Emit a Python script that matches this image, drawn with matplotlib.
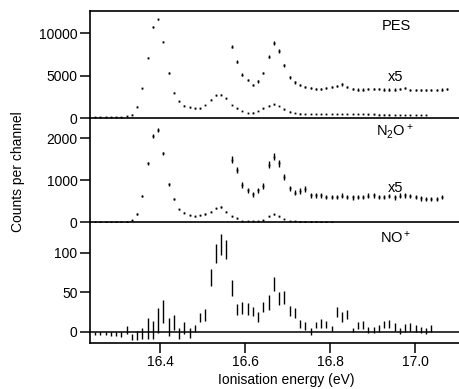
import matplotlib
matplotlib.use("Agg")
import matplotlib.pyplot as plt
import numpy as np

plt.rcParams['font.family'] = ['Liberation Sans', 'DejaVu Sans']
plt.rcParams['mathtext.fontset'] = 'custom'
plt.rcParams['mathtext.rm'] = 'Liberation Sans'
plt.rcParams['mathtext.it'] = 'Liberation Sans'
plt.rcParams['mathtext.default'] = 'regular'

# canales de energia (eV)
e0 = 16.247
paso = 0.01237

# PES
pes = [120, 120, 130, 130, 140, 160, 250, 400, 1350, 3500, 7100, 10700, 11600,
       9000, 5300, 3000, 1950, 1470, 1270, 1150, 1150, 1550, 2150, 2650, 2740,
       2340, 1550, 1150, 830, 560, 640, 830, 1150, 1470, 1630, 1430, 1030, 750,
       560, 520, 500, 480, 470, 470, 460, 460, 450, 460, 470, 460, 450, 440, 430,
       420, 410, 400, 400, 390, 380, 380, 370, 360, 350, 350]
pes_x5 = [8400, 6600, 5100, 4500, 3900, 4300, 5300, 7200, 8800, 7900, 6200, 4800,
          4200, 3850, 3650, 3550, 3400, 3400, 3550, 3650, 3750, 3950, 3650, 3400,
          3350, 3350, 3400, 3400, 3400, 3350, 3350, 3350, 3400, 3550, 3250, 3250,
          3250, 3250, 3250, 3250, 3350, 3400]

# N2O+
n2o = [0, 0, 0, 0, 5, 5, 10, 40, 190, 620, 1400, 2050, 2190, 1635, 900, 540, 300,
       220, 165, 140, 165, 190, 245, 325, 357, 245, 140, 87, 30, 20, 20, 25, 40,
       140, 180, 140, 70, 30, 15, 10, 10, 10, 10, 5, 5, 5]
n2o_x5 = [1490, 1240, 880, 760, 660, 760, 860, 1370, 1555, 1400, 1080, 800, 700,
          740, 785, 640, 640, 640, 600, 600, 600, 625, 600, 590, 600, 600, 625,
          640, 600, 600, 620, 590, 625, 640, 620, 600, 565, 550, 550, 550, 595]
inicio_x5 = 26

# NO+
no = [-2.5, -1.9, -1.9, -3, -3, -3.6, 2.5, -6.3, -5, -2.1, 4.6, 2.5, 14.6, 26,
      6.3, 12, -2, 4.6, -1.3, 4.6, 18, 21.5, 69, 99, 110.6, 104.6, 56, 28, 30,
      29, 26, 19.4, 32, 37.5, 61, 42, 43.5, 27, 24, 10, 7.6, 0.4, 8.9, 11, 9.3,
      3.8, 25.7, 19, 22, 2.5, 8.4, 8.9, 2.5, 2.5, 4.2, 9.3, 10, 5.9, 1.3, 5,
      6.3, 4.2, 2.5, 0.8, 4.6]
no_err = [2, 2, 2, 2.5, 2.5, 3.4, 4.6, 4.2, 5.7, 6.8, 13.5, 11.4, 16, 15, 11,
          9.5, 6.8, 7.4, 6, 4.2, 5.7, 7.4, 10.3, 12, 13, 12, 10, 6.8, 7.6, 7.4,
          6, 6.3, 6.3, 9.5, 9, 8, 8.4, 6.3, 6, 5.3, 4.9, 4.2, 4.2, 5.5, 4.6, 3.2,
          6.3, 6.8, 5.7, 2, 4.6, 5, 4.2, 4.2, 4.6, 4.6, 5.3, 5.3, 4.2, 4.6, 4.9,
          4.6, 4.2, 3.8, 4.2]


def energias(n, desde=0):
    return e0 + paso * (desde + np.arange(n))


W, H = 459, 389
fig = plt.figure(figsize=(W / 100, H / 100), dpi=100)


def caja(y_top, y_bot):
    return [90 / W, 1 - y_bot / H, 1 - 90 / W, (y_bot - y_top) / H]


ax1 = fig.add_axes(caja(11, 118))
ax2 = fig.add_axes(caja(118, 222))
ax3 = fig.add_axes(caja(222, 343))

kw = dict(fmt='none', ecolor='black', elinewidth=1.0, capsize=0)


def puntos(ax, x, y, err):
    # barra de error + punto pequeño para que se vean los valores chicos
    ax.errorbar(x, y, yerr=err, **kw)
    ax.plot(x, y, ls='none', marker='s', ms=1.3, mfc='black', mec='none')


# panel PES
y = np.array(pes, float)
puntos(ax1, energias(len(y)), y, np.sqrt(y))
y5 = np.array(pes_x5, float)
puntos(ax1, energias(len(y5), inicio_x5), y5, np.sqrt(5 * y5))
ax1.set_ylim(0, 12600)
ax1.set_yticks([0, 5000, 10000])

# panel N2O+
y = np.array(n2o, float)
puntos(ax2, energias(len(y)), y, np.sqrt(y))
y5 = np.array(n2o_x5, float)
puntos(ax2, energias(len(y5), inicio_x5), y5, np.sqrt(5 * y5))
ax2.set_ylim(0, 2480)
ax2.set_yticks([0, 1000, 2000])

# panel NO+
ax3.errorbar(energias(len(no)), no, yerr=no_err, **kw)
ax3.axhline(0, color='black', lw=1.1)
ax3.set_ylim(-14, 139)
ax3.set_yticks([0, 50, 100])
ax3.set_xticks([16.4, 16.6, 16.8, 17.0])
ax3.set_xticklabels(['16.4', '16.6', '16.8', '17.0'])

for ax in (ax1, ax2, ax3):
    ax.set_xlim(16.235, 17.1035)
    ax.spines['right'].set_visible(False)
    for s in ax.spines.values():
        s.set_linewidth(1.2)
    ax.tick_params(axis='y', direction='out', length=7, width=1.1,
                   labelsize=10, pad=2)
    ax.patch.set_alpha(0)
ax2.spines['top'].set_visible(False)
ax3.spines['top'].set_visible(False)
for ax in (ax1, ax2):
    ax.tick_params(axis='x', bottom=False, labelbottom=False)
ax3.tick_params(axis='x', direction='out', length=7, width=1.1,
                labelsize=10, pad=2)


# textos
def texto(x, y, s, **k):
    fig.text(x / W, 1 - y / H, s, fontsize=10.5, va='center', ha='left', **k)


texto(382, 26, 'PES')
texto(388, 77, 'x5')
texto(376, 132, r'N$_2$O$^+$')
texto(388, 188, 'x5')
texto(380, 238, r'NO$^+$')

fig.text(18 / W, 1 - 172 / H, 'Counts per channel', rotation=90,
         fontsize=10, va='center', ha='center')
fig.text(286 / W, 1 - 380 / H, 'Ionisation energy (eV)', fontsize=10,
         va='center', ha='center')

fig.savefig('out.png', dpi=100)
